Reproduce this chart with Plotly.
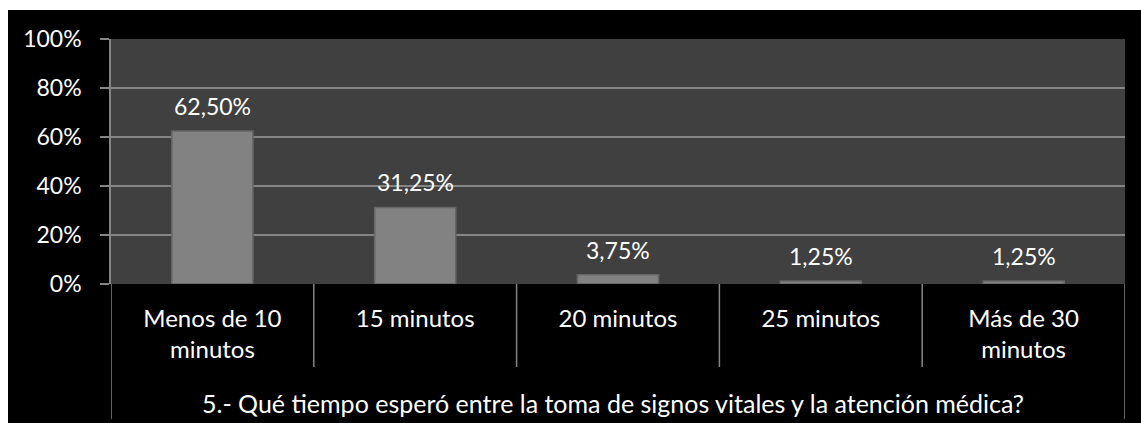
import plotly.graph_objects as go

categories = ["Menos de 10<br>minutos", "15 minutos", "20 minutos", "25 minutos", "Más de 30<br>minutos"]
values = [0.625, 0.3125, 0.0375, 0.0125, 0.0125]
value_labels = ["62,50%", "31,25%", "3,75%", "1,25%", "1,25%"]
question = "5.- Qué tiempo esperó entre la toma de signos vitales y la atención médica?"
y_ticks = [0, 0.2, 0.4, 0.6, 0.8, 1.0]
y_tick_labels = ["0%", "20%", "40%", "60%", "80%", "100%"]

W, H = 1141, 423
L, R, T, B = 111, 16, 39, 139
pw, ph = W - L - R, H - T - B

def px_x(p):
    return (p - L) / pw

def px_y(p):
    return (H - B - p) / ph

FONT = "Lato"
GRID = "#858585"

fig = go.Figure()
fig.add_trace(go.Bar(
    x=list(range(len(categories))), y=values, width=0.4,
    marker=dict(color="#828282", line=dict(color="#666666", width=1.5)),
    hoverinfo="skip", showlegend=False,
))

for i, (v, lab) in enumerate(zip(values, value_labels)):
    fig.add_annotation(x=i, y=v, xref="x", yref="y", text=lab, showarrow=False,
                       yanchor="bottom", yshift=9,
                       font=dict(family=FONT, size=23, color="#ffffff"))

# category dividers
n = len(categories)
for k in range(n + 1):
    outer = k in (0, n)
    fig.add_shape(type="line", xref="x", yref="paper",
                  x0=k - 0.5, x1=k - 0.5, y0=0, y1=px_y(419 if outer else 367),
                  line=dict(color=GRID, width=1.5))

# white outer strips
fig.add_shape(type="rect", xref="paper", yref="paper", x0=px_x(0), x1=px_x(8),
              y0=px_y(H), y1=px_y(0), fillcolor="white", line=dict(width=0), layer="above")
fig.add_shape(type="rect", xref="paper", yref="paper", x0=px_x(0), x1=px_x(W),
              y0=px_y(10), y1=px_y(0), fillcolor="white", line=dict(width=0), layer="above")

fig.add_annotation(x=px_x(613), y=px_y(403), xref="paper", yref="paper", text=question,
                   showarrow=False, yanchor="middle", xanchor="center",
                   font=dict(family=FONT, size=25, color="#ffffff"))

fig.update_layout(
    width=W, height=H,
    margin=dict(l=L, r=R, t=T, b=B, pad=0),
    paper_bgcolor="#000000", plot_bgcolor="#404040",
    font=dict(family=FONT, size=23, color="#ffffff"),
    bargap=0.6,
    xaxis=dict(range=[-0.5, n - 0.5], tickmode="array",
               tickvals=list(range(n)), ticktext=categories,
               showgrid=False, zeroline=False, showline=False, ticks="",
               ticklabelstandoff=18, fixedrange=True,
               tickfont=dict(family=FONT, size=24, color="#ffffff")),
    yaxis=dict(range=[0, 1], tickmode="array", tickvals=y_ticks, ticktext=y_tick_labels,
               showgrid=True, gridcolor=GRID, gridwidth=1.5, zeroline=False,
               showline=True, linecolor=GRID, linewidth=1.5,
               ticks="outside", ticklen=9, tickcolor=GRID, tickwidth=1.5,
               ticklabelstandoff=14, fixedrange=True,
               tickfont=dict(family=FONT, size=23, color="#ffffff")),
)

fig.write_html("out.html")
